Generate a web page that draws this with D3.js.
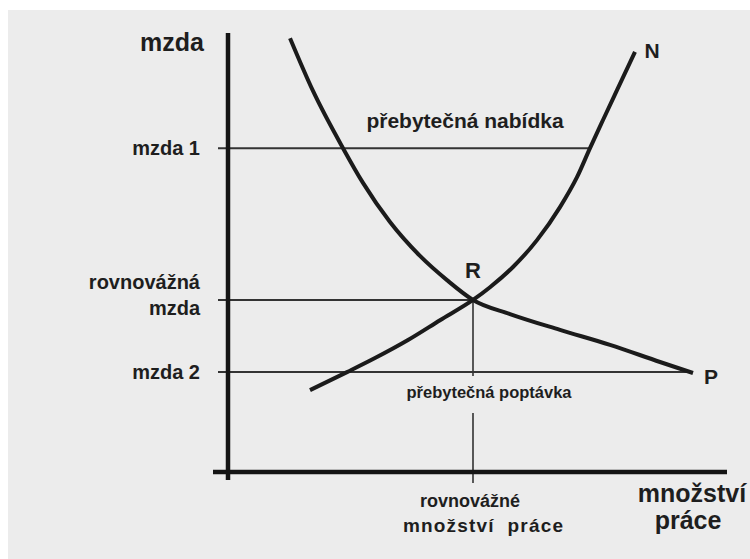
<!DOCTYPE html>
<html>
<head>
<meta charset="utf-8">
<script src="https://cdn.jsdelivr.net/npm/d3@7"></script>
<style>
  body { margin: 0; background: #fff; }
  svg { display: block; font-family: "Liberation Sans", Arial, sans-serif; font-weight: bold; }
</style>
</head>
<body>
<svg></svg>
<script>

// Variables
var width = 750;
var height = 559;

// Data (quantity 0..100, wage 0..100)
var supplyQ = [16.4, 23.8, 29.4, 36.0, 42.4, 49.0, 52.4, 57.0, 61.8, 66.4, 69.8, 72.4, 75.0, 77.8, 81.4];
var supplyW = [18.6, 22.7, 25.9, 30.0, 34.5, 39.1, 42.0, 46.6, 52.7, 60.2, 67.0, 73.6, 80.0, 86.8, 95.5];

var demandQ = [12.4, 17.0, 23.0, 27.0, 32.4, 38.4, 43.8, 49.0, 56.4, 66.4, 76.4, 86.4, 93.0];
var demandW = [98.6, 86.6, 73.6, 65.7, 56.8, 49.1, 43.6, 39.1, 35.9, 32.3, 28.9, 25.0, 22.5];

var wageLabels = [["mzda 1"], ["rovnovážná", "mzda"], ["mzda 2"]];
var wageValues = [73.6, 39.1, 22.7];
var wageEnds = [72.4, 49.0, 93.0];   // where each wage line meets a curve

var eqQuantity = 49.0;
var eqWage = 39.1;

// Scales
var x = d3.scaleLinear().domain([0, 100]).range([228, 728]);
var y = d3.scaleLinear().domain([0, 100]).range([472, 32]);

var svg = d3.select('svg')
    .attr('width', width)
    .attr('height', height);

// scanned page background
svg.append('rect').attr('width', width).attr('height', height).attr('fill', '#fff');
svg.append('rect').attr('x', 8).attr('y', 10)
    .attr('width', width - 8).attr('height', height - 10)
    .attr('fill', '#ececec');

var g = svg.append('g');

// Horizontal wage lines (with small tick left of the axis)
g.selectAll('line.wage')
    .data(wageValues)
    .enter().append('line')
    .attr('class', 'wage')
    .attr('x1', x(0) - 10)
    .attr('x2', function (d, i) { return x(wageEnds[i]); })
    .attr('y1', function (d) { return y(d); })
    .attr('y2', function (d) { return y(d); })
    .style('stroke', '#333')
    .style('stroke-width', 2);

// Vertical equilibrium line, broken by the label
g.append('line')
    .attr('x1', x(eqQuantity)).attr('x2', x(eqQuantity))
    .attr('y1', y(eqWage)).attr('y2', y(wageValues[2]) + 4)
    .style('stroke', '#333').style('stroke-width', 1.6);
g.append('line')
    .attr('x1', x(eqQuantity)).attr('x2', x(eqQuantity))
    .attr('y1', 413).attr('y2', y(0) + 11)
    .style('stroke', '#333').style('stroke-width', 1.6);

// Curves
var line = d3.line()
    .x(function (d) { return x(d[0]); })
    .y(function (d) { return y(d[1]); })
    .curve(d3.curveMonotoneX);

g.append('path')
    .attr('d', line(d3.zip(supplyQ, supplyW)))
    .style('fill', 'none').style('stroke', '#1b1b1b').style('stroke-width', 4);

g.append('path')
    .attr('d', line(d3.zip(demandQ, demandW)))
    .style('fill', 'none').style('stroke', '#1b1b1b').style('stroke-width', 4);

// Axes
g.append('line')
    .attr('x1', x(0)).attr('x2', x(0))
    .attr('y1', 33).attr('y2', y(0) + 8)
    .style('stroke', '#141414').style('stroke-width', 4.5);
g.append('line')
    .attr('x1', x(0) - 15).attr('x2', 727)
    .attr('y1', y(0)).attr('y2', y(0))
    .style('stroke', '#141414').style('stroke-width', 4.5);

// Text
var txt = '#1e1e1e';

g.append('text').attr('x', 204).attr('y', 51)
    .attr('text-anchor', 'end').attr('font-size', 25).attr('fill', txt)
    .text('mzda');

g.selectAll('text.wage')
    .data(wageLabels)
    .enter().append('text')
    .attr('class', 'wage')
    .attr('text-anchor', 'end')
    .attr('font-size', 20)
    .attr('fill', txt)
    .attr('transform', function (d, i) {
        var off = d.length > 1 ? -11 : 7;
        return 'translate(200,' + (y(wageValues[i]) + off) + ')';
    })
    .selectAll('tspan')
    .data(function (d) { return d; })
    .enter().append('tspan')
    .attr('x', 0)
    .attr('dy', function (d, i) { return i ? 26 : 0; })
    .text(function (d) { return d; });

g.append('text').attr('x', 465).attr('y', 128)
    .attr('text-anchor', 'middle').attr('font-size', 21).attr('fill', txt)
    .text('přebytečná nabídka');

g.append('text').attr('x', 489).attr('y', 398)
    .attr('text-anchor', 'middle').attr('font-size', 16.5).attr('fill', txt)
    .text('přebytečná poptávka');

g.append('text').attr('x', x(eqQuantity)).attr('y', 278)
    .attr('text-anchor', 'middle').attr('font-size', 22).attr('fill', txt)
    .text('R');

g.append('text').attr('x', 652).attr('y', 58)
    .attr('text-anchor', 'middle').attr('font-size', 21).attr('fill', txt)
    .text('N');

g.append('text').attr('x', 711).attr('y', 384)
    .attr('text-anchor', 'middle').attr('font-size', 21).attr('fill', txt)
    .text('P');

g.append('text').attr('x', 470).attr('y', 507)
    .attr('text-anchor', 'middle').attr('font-size', 18).attr('fill', txt)
    .text('rovnovážné');
g.append('text').attr('x', 483).attr('y', 532)
    .attr('text-anchor', 'middle').attr('font-size', 19).attr('fill', txt)
    .attr('textLength', 160).attr('lengthAdjust', 'spacing')
    .text('množství\u00a0\u00a0práce');

g.append('text').attr('x', 692).attr('y', 502)
    .attr('text-anchor', 'middle').attr('font-size', 25).attr('fill', txt)
    .text('množství');
g.append('text').attr('x', 688).attr('y', 529)
    .attr('text-anchor', 'middle').attr('font-size', 25).attr('fill', txt)
    .text('práce');

</script>
</body>
</html>
